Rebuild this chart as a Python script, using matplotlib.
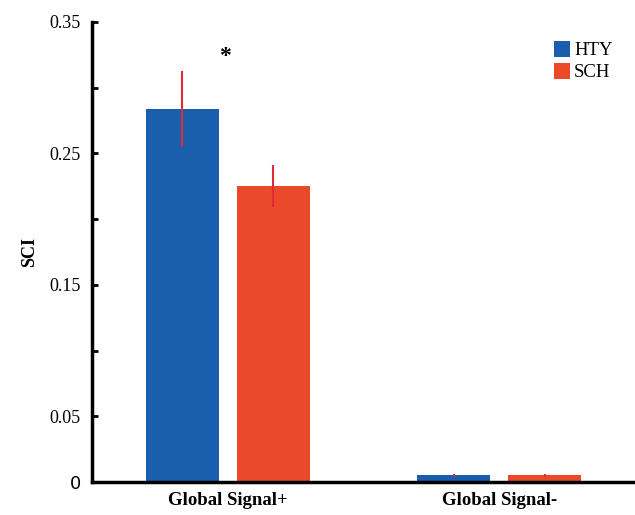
import matplotlib.pyplot as plt
import numpy as np

# Datos
groups = ['Global Signal+', 'Global Signal-']
series = ['HTY', 'SCH']
hty_vals = [0.284, 0.005]
hty_err = [0.029, 0.001]
sch_vals = [0.225, 0.005]
sch_err = [0.016, 0.001]
ytick_vals = [0, 0.05, 0.10, 0.15, 0.20, 0.25, 0.30, 0.35]
ytick_labels = ['0', '0.05', '', '0.15', '', '0.25', '', '0.35']

blue = '#1a5fae'
red = '#ea4a2a'
err_color = '#e02a35'

plt.rcParams['font.family'] = ['Liberation Serif', 'DejaVu Serif']

fig = plt.figure(figsize=(6.35, 5.15), dpi=100)
ax = fig.add_axes([92 / 635, 1 - 482 / 515, 1 - 92 / 635, 460 / 515])

x = np.arange(1, len(groups) + 1)
w = 0.27
off = 0.1675
ax.bar(x - off, hty_vals, w, color=blue, label=series[0])
ax.bar(x + off, sch_vals, w, color=red, label=series[1])
ax.errorbar(x - off, hty_vals, yerr=hty_err, fmt='none', ecolor=err_color, elinewidth=1.5, capsize=0)
ax.errorbar(x + off, sch_vals, yerr=sch_err, fmt='none', ecolor=err_color, elinewidth=1.5, capsize=0)

# marca de significancia
ax.text(x[0] - 0.01, hty_vals[0] + hty_err[0] + 0.003, '*', ha='center', va='bottom', fontsize=17, fontweight='bold')

ax.set_xlim(0.5, 2.5)
ax.set_ylim(0, 0.35)
ax.set_yticks(ytick_vals)
ax.set_yticklabels(ytick_labels, fontsize=13)
ax.set_xticks(x)
ax.set_xticklabels(groups, fontsize=13.5, fontweight='bold')
ax.tick_params(axis='x', length=0, pad=7)
ax.tick_params(axis='y', direction='in', length=4, width=2, pad=8)
ax.get_yticklabels()[0].set_family('DejaVu Sans')
ax.set_ylabel('SCI', fontsize=13, fontweight='bold', labelpad=8)

for s in ['top', 'right']:
    ax.spines[s].set_visible(False)
for s in ['left', 'bottom']:
    ax.spines[s].set_linewidth(2.5)

ax.legend(loc='upper right', bbox_to_anchor=(0.99, 0.995), frameon=False, fontsize=13.5,
          handlelength=0.9, handleheight=0.9, handletextpad=0.2, labelspacing=0.2)

plt.savefig('out.png', dpi=100)
